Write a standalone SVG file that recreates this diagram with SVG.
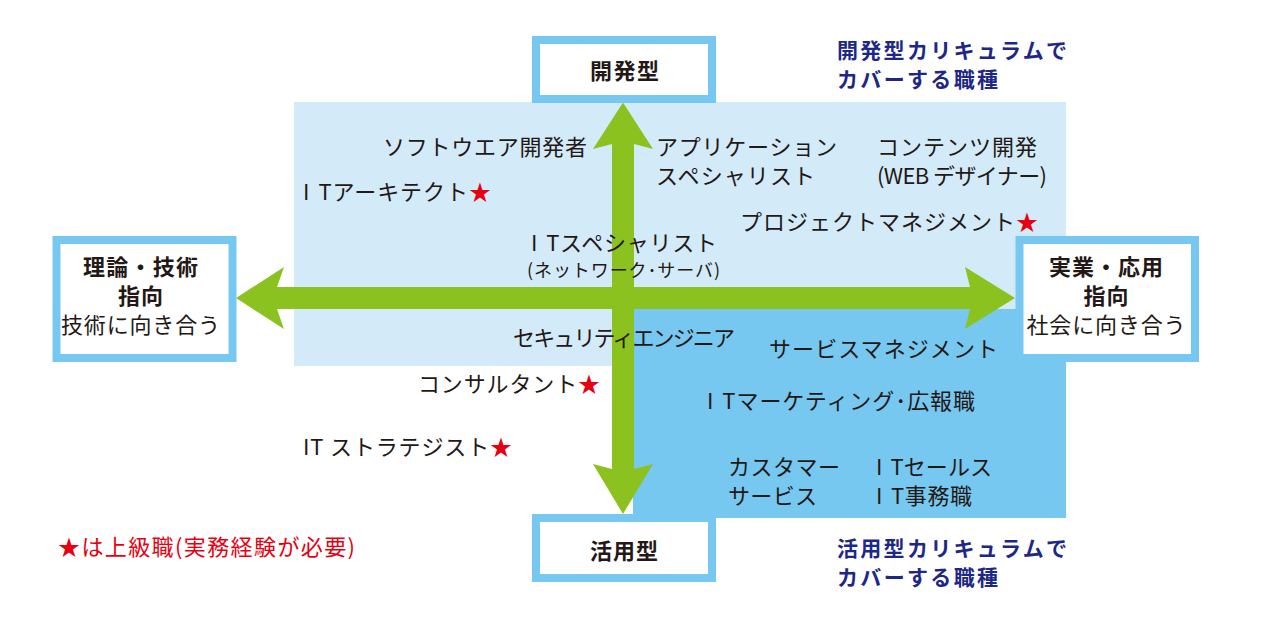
<svg xmlns="http://www.w3.org/2000/svg" width="1261" height="619" viewBox="0 0 1261 619">
<style>
.t{font-family:"Noto Sans CJK JP","Noto Sans CJK SC",sans-serif;font-size:22px;fill:#231815}
.b{font-weight:bold}
.s{font-size:18px}
.navy{fill:#1d2787;font-weight:bold;font-size:21px}
.red{fill:#e60012}
.box{fill:#ffffff;stroke:#76c8f0;stroke-width:8}
.it{letter-spacing:8px}
</style>
<rect width="1261" height="619" fill="#ffffff"/>
<g id="regions">
<rect x="294" y="102" width="772" height="264" fill="#d3eaf9"/>
<rect x="633" y="309" width="433" height="209" fill="#76c8f0"/>
</g>
<g id="connectors">
<polygon fill="#8cc21f" points="236,298 284,267 277,287 970,287 965,267 1015,298 965,329 970,309 277,309 284,329"/>
<polygon fill="#8cc21f" points="623,102.5 653,149 634,144 634,469 653,464 623,514 593,464 612,469 612,144 593,149"/>
</g>
<g id="node-top">
<rect class="box" x="536" y="40" width="176" height="59"/>
<text class="t b" x="624.5" y="78.5" text-anchor="middle" textLength="69" lengthAdjust="spacing">開発型</text>
</g>
<g id="node-bottom">
<rect class="box" x="536" y="518" width="176" height="60"/>
<text class="t b" x="624" y="559" text-anchor="middle" textLength="68" lengthAdjust="spacing">活用型</text>
</g>
<g id="node-left">
<rect class="box" x="56.5" y="240" width="176" height="118"/>
<text class="t b" x="140.5" y="275" text-anchor="middle" textLength="115" lengthAdjust="spacing">理論・技術</text>
<text class="t b" x="140.5" y="304" text-anchor="middle" textLength="45" lengthAdjust="spacing">指向</text>
<text class="t" x="140.5" y="333" text-anchor="middle" textLength="159" lengthAdjust="spacing">技術に向き合う</text>
</g>
<g id="node-right">
<rect class="box" x="1019.5" y="240" width="175.5" height="118"/>
<text class="t b" x="1106" y="275" text-anchor="middle" textLength="114" lengthAdjust="spacing">実業・応用</text>
<text class="t b" x="1106" y="304" text-anchor="middle" textLength="45" lengthAdjust="spacing">指向</text>
<text class="t" x="1106" y="333" text-anchor="middle" textLength="159" lengthAdjust="spacing">社会に向き合う</text>
</g>
<g id="caption-dev">
<text class="t navy" x="837" y="58" textLength="230" lengthAdjust="spacing">開発型カリキュラムで</text>
<text class="t navy" x="837" y="87" textLength="161" lengthAdjust="spacing">カバーする職種</text>
</g>
<g id="caption-use">
<text class="t navy" x="837" y="556" textLength="230" lengthAdjust="spacing">活用型カリキュラムで</text>
<text class="t navy" x="837" y="585" textLength="161" lengthAdjust="spacing">カバーする職種</text>
</g>
<g id="jobs">
<text class="t" x="383" y="155" textLength="204" lengthAdjust="spacing">ソフトウエア開発者</text>
<text class="t" x="303" y="200" textLength="188" lengthAdjust="spacing"><tspan class="it">I</tspan>Tアーキテクト<tspan class="red">★</tspan></text>
<text class="t" x="656" y="155" textLength="181" lengthAdjust="spacing">アプリケーション</text>
<text class="t" x="656" y="184" textLength="159" lengthAdjust="spacing">スペシャリスト</text>
<text class="t" x="877" y="155" textLength="160" lengthAdjust="spacing">コンテンツ開発</text>
<text class="t" x="877" y="184" textLength="170" lengthAdjust="spacing">(WEB デザイナー)</text>
<text class="t" x="740" y="230" textLength="298" lengthAdjust="spacing">プロジェクトマネジメント<tspan class="red">★</tspan></text>
<text class="t" x="531" y="251" textLength="186" lengthAdjust="spacing"><tspan class="it">I</tspan>Tスペシャリスト</text>
<text class="t s" x="527" y="277" textLength="193" lengthAdjust="spacing">(ネットワーク･サーバ)</text>
<text class="t" x="513" y="346" textLength="222" lengthAdjust="spacing">セキュリティエンジニア</text>
<text class="t" x="769" y="357" textLength="229" lengthAdjust="spacing">サービスマネジメント</text>
<text class="t" x="418" y="392" textLength="182" lengthAdjust="spacing">コンサルタント<tspan class="red">★</tspan></text>
<text class="t" x="707" y="409" textLength="268" lengthAdjust="spacing"><tspan class="it">I</tspan>Tマーケティング･広報職</text>
<text class="t" x="303" y="455" textLength="209" lengthAdjust="spacing">IT ストラテジスト<tspan class="red">★</tspan></text>
<text class="t" x="728" y="475" textLength="112" lengthAdjust="spacing">カスタマー</text>
<text class="t" x="728" y="504" textLength="89" lengthAdjust="spacing">サービス</text>
<text class="t" x="876" y="475" textLength="116" lengthAdjust="spacing"><tspan class="it">I</tspan>Tセールス</text>
<text class="t" x="876" y="504" textLength="96" lengthAdjust="spacing"><tspan class="it">I</tspan>T事務職</text>
</g>
<g id="legend">
<text class="t red" x="58" y="555" textLength="297" lengthAdjust="spacing">★は上級職(実務経験が必要)</text>
</g>
</svg>
